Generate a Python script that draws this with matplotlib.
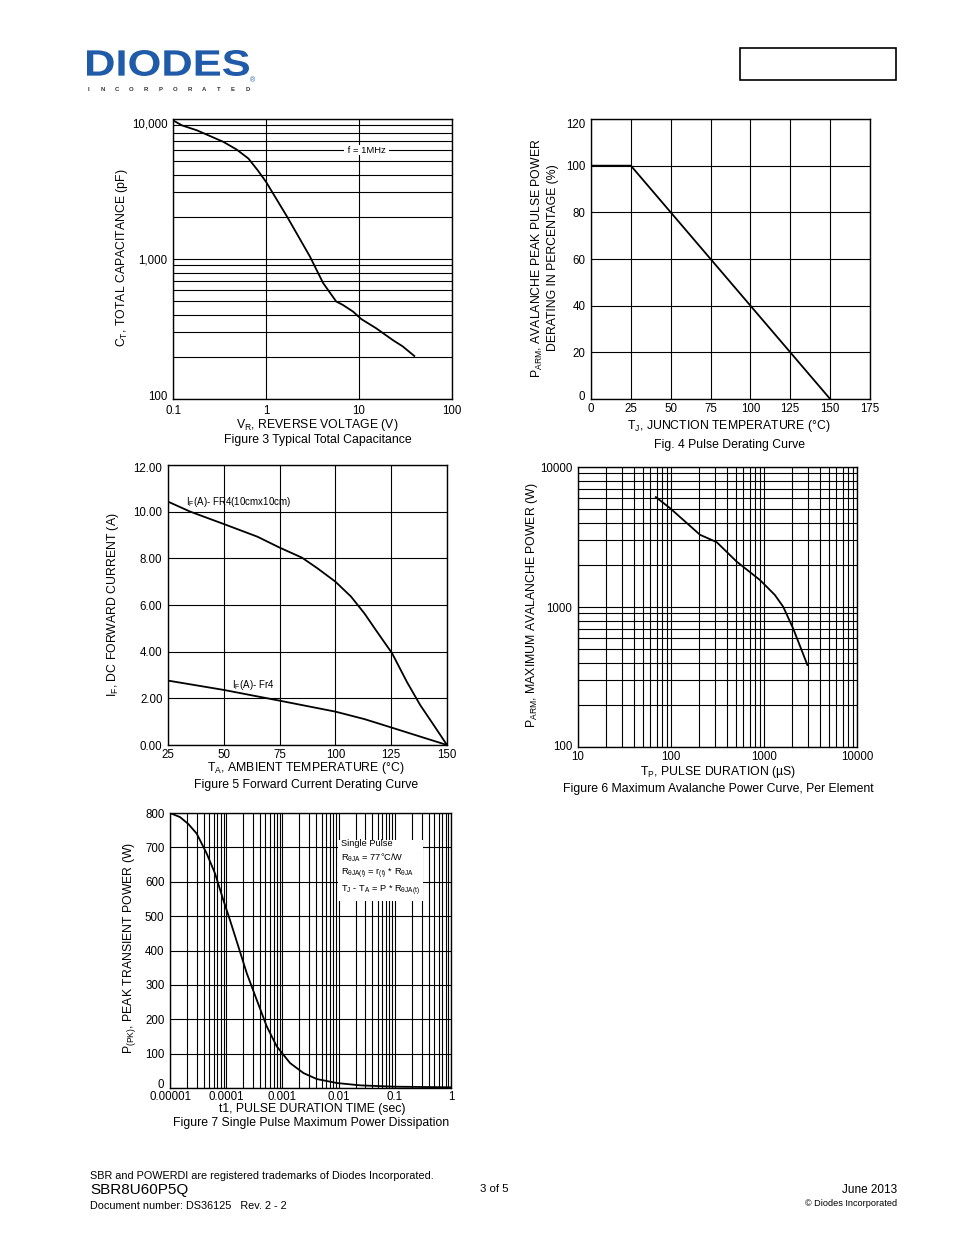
import numpy as np
import matplotlib
matplotlib.use("Agg")
import matplotlib.pyplot as plt
from matplotlib.textpath import TextPath
from matplotlib.patches import PathPatch, Rectangle
from matplotlib.font_manager import FontProperties
from matplotlib.transforms import Affine2D, ScaledTranslation

plt.rcParams['font.family'] = ['Liberation Sans', 'DejaVu Sans']
plt.rcParams['mathtext.fontset'] = 'custom'
plt.rcParams['mathtext.rm'] = 'Liberation Sans'
plt.rcParams['mathtext.it'] = 'Liberation Sans:italic'

W, H = 954, 1235

# Figure 3 - capacitance vs reverse voltage
cap_v = [0.1, 0.125, 0.181, 0.349, 0.484, 0.647, 0.813, 1.0, 1.69, 2.97, 4.11,
         5.69, 6.7, 8.63, 10.6, 15.3, 23.2, 29.4, 39.3]
cap_c = [9780, 9000, 8300, 6860, 6050, 5220, 4310, 3560, 2000, 1040, 674,
         497, 470, 421, 372, 320, 263, 238, 203]

# Figure 4 - pulse derating
der_t = [0, 25, 150]
der_p = [100, 100, 0]

# Figure 5 - forward current derating
fr4big_t = [25, 35, 50, 65, 75, 85, 92, 100, 107, 113, 118.6, 125.4, 132, 138, 144, 150]
fr4big_i = [10.43, 10.0, 9.47, 8.93, 8.46, 8.03, 7.57, 7.0, 6.36, 5.64, 4.86, 3.93,
            2.71, 1.71, 0.86, 0.0]
fr4_t = [25, 50, 75, 100, 113, 125.4, 138, 150]
fr4_i = [2.76, 2.36, 1.9, 1.43, 1.11, 0.74, 0.36, 0.0]

# Figure 6 - avalanche power vs pulse duration
av_tp = [68.7, 97.7, 205, 310, 507, 903, 1065, 1308, 1607, 2057, 2930]
av_p = [6095, 5080, 3280, 2906, 2113, 1560, 1399, 1219, 1005, 703, 385]

# Figure 7 - single pulse power
sp_t = [1e-5, 1.51e-5, 2.12e-5, 2.99e-5, 4.5e-5, 6.33e-5, 8.92e-5, 1.17e-4, 1.65e-4,
        2.32e-4, 3.5e-4, 5.27e-4, 7.94e-4, 1.37e-3, 2.37e-3, 4.1e-3, 9.3e-3, 0.0243,
        0.095, 1.0]
sp_p = [800, 788, 768, 740, 682, 624, 546, 488, 411, 334, 256, 179, 121, 72.5, 43.5,
        26, 14.5, 7.7, 3.9, 2]

TICK = 8.3
LAB = 8.8
GLW = 0.8
CLW = 1.3

fig = plt.figure(figsize=(W / 100, H / 100), dpi=100)


def fx(x):
    return x / W


def fy(y):
    return 1 - y / H


def txt(x, y, s, size=LAB, ha='center', va='center', **kw):
    fig.text(fx(x), fy(y), s, fontsize=size, ha=ha, va=va, **kw)


def make_ax(l, t, r, b):
    ax = fig.add_axes([fx(l), fy(b), (r - l) / W, (b - t) / H])
    for sp in ax.spines.values():
        sp.set_linewidth(1.0)
    ax.tick_params(which='both', length=0, labelsize=TICK, pad=4)
    return ax


def nudge(label, dy_px):
    # shift one tick label vertically (pixels, + is down)
    label.set_transform(label.get_transform() +
                        ScaledTranslation(0, -dy_px / 100, fig.dpi_scale_trans))


# page overlay: logo, box, footer
ov = fig.add_axes([0, 0, 1, 1])
ov.set_xlim(0, W)
ov.set_ylim(H, 0)
ov.axis('off')

tp = TextPath((0, 0), "DIODES", size=1, prop=FontProperties(family='Liberation Sans', weight='bold'))
ext = tp.get_extents()
sx = (249 - 87) / ext.width
sy = (76 - 50) / ext.height
tr = Affine2D().translate(-ext.x0, -ext.y0).scale(sx, -sy).translate(87, 76)
ov.add_patch(PathPatch(tr.transform_path(tp), facecolor='#1f5ba8', edgecolor='none'))
ov.text(253, 81, "®", fontsize=5, color='#1f5ba8', ha='center', va='center')
for i, ch in enumerate("INCORPORATED"):
    ov.text(88 + i * 14.5, 89.5, ch, fontsize=4.3, fontweight='bold', color='#333333',
            ha='center', va='center')
ov.add_patch(Rectangle((740, 48), 156, 32, fill=False, edgecolor='black', linewidth=1.2))

txt(90, 1176, "SBR and POWERDI are registered trademarks of Diodes Incorporated.", size=7.8, ha='left')
txt(90, 1190, "SBR8U60P5Q", size=11, ha='left')
txt(90, 1206, "Document number: DS36125   Rev. 2 - 2", size=7.8, ha='left')
txt(494, 1189, "3 of 5", size=8.2)
txt(897, 1190, "June 2013", size=8.5, ha='right')
txt(897, 1204, "© Diodes Incorporated", size=6.6, ha='right')

# ---- Figure 3
ax3 = make_ax(173, 119, 452, 399)
ax3.set_xscale('log')
ax3.set_yscale('log')
ax3.set_xlim(0.1, 100)
ax3.set_ylim(100, 10000)
ax3.set_xticks([0.1, 1, 10, 100])
ax3.set_xticklabels(['0.1', '1', '10', '100'])
ax3.set_xticks([], minor=True)
ax3.set_yticks([100, 1000, 10000])
ax3.set_yticklabels(['100', '1,000', '10,000'])
ax3.set_yticks([m * d for d in (100, 1000) for m in range(2, 10)], minor=True)
ax3.yaxis.set_minor_formatter(plt.NullFormatter())
ax3.grid(True, which='both', axis='y', color='black', linewidth=GLW)
ax3.grid(True, which='major', axis='x', color='black', linewidth=GLW)
ax3.plot(cap_v, cap_c, color='black', linewidth=CLW)
ax3.text(12, 6000, " f = 1MHz ", fontsize=6.8, ha='center', va='center',
         bbox=dict(facecolor='white', edgecolor='none', pad=0.5))
txt(122, 258, "C$_\\mathregular{T}$, TOTAL CAPACITANCE (pF)", rotation=90)
txt(317, 425, "V$_\\mathregular{R}$, REVERSE VOLTAGE (V)")
txt(318, 440, "Figure 3 Typical Total Capacitance")
yl = ax3.get_yticklabels()
nudge(yl[0], -4)
nudge(yl[-1], 4)

# ---- Figure 4
ax4 = make_ax(591, 119, 870, 399)
ax4.set_xlim(0, 175)
ax4.set_ylim(0, 120)
ax4.set_xticks(range(0, 176, 25))
ax4.set_yticks(range(0, 121, 20))
ax4.tick_params(axis='x', pad=3)
ax4.grid(True, color='black', linewidth=GLW)
ax4.plot(der_t, der_p, color='black', linewidth=CLW)
txt(537, 258, "P$_\\mathregular{ARM}$, AVALANCHE PEAK PULSE POWER", rotation=90)
txt(553, 258, "DERATING IN PERCENTAGE (%)", rotation=90)
txt(729, 426, "T$_\\mathregular{J}$, JUNCTION TEMPERATURE (°C)")
txt(729, 445, "Fig. 4 Pulse Derating Curve")
yl = ax4.get_yticklabels()
nudge(yl[0], -4)
nudge(yl[-1], 4)

# ---- Figure 5
ax5 = make_ax(168, 465, 447, 745)
ax5.set_xlim(25, 150)
ax5.set_ylim(0, 12)
ax5.set_xticks(range(25, 151, 25))
ax5.set_yticks(np.arange(0, 12.1, 2))
ax5.set_yticklabels(['%.2f' % v for v in np.arange(0, 12.1, 2)])
ax5.tick_params(axis='x', pad=3)
ax5.grid(True, color='black', linewidth=GLW)
ax5.plot(fr4big_t, fr4big_i, color='black', linewidth=CLW)
ax5.plot(fr4_t, fr4_i, color='black', linewidth=CLW)
ax5.text(33, 10.3, "I$_\\mathregular{F}$(A)- FR4(10cmx10cm)", fontsize=7, ha='left', va='baseline')
ax5.text(53.5, 2.46, "I$_\\mathregular{F}$(A)- Fr4", fontsize=7, ha='left', va='baseline')
txt(113, 605, "I$_\\mathregular{F}$, DC FORWARD CURRENT (A)", rotation=90)
txt(306, 768, "T$_\\mathregular{A}$, AMBIENT TEMPERATURE (°C)")
txt(306, 785, "Figure 5 Forward Current Derating Curve")
yl = ax5.get_yticklabels()
nudge(yl[-1], 2)

# ---- Figure 6
ax6 = make_ax(578, 467, 857, 747)
ax6.set_xscale('log')
ax6.set_yscale('log')
ax6.set_xlim(10, 10000)
ax6.set_ylim(100, 10000)
ax6.set_xticks([10, 100, 1000, 10000])
ax6.set_xticklabels(['10', '100', '1000', '10000'])
ax6.set_yticks([100, 1000, 10000])
ax6.set_yticklabels(['100', '1000', '10000'])
ax6.set_xticks([m * d for d in (10, 100, 1000) for m in range(2, 10)], minor=True)
ax6.set_yticks([m * d for d in (100, 1000) for m in range(2, 10)], minor=True)
ax6.xaxis.set_minor_formatter(plt.NullFormatter())
ax6.yaxis.set_minor_formatter(plt.NullFormatter())
ax6.tick_params(axis='x', pad=3)
ax6.grid(True, which='both', color='black', linewidth=GLW)
ax6.plot(av_tp, av_p, color='black', linewidth=CLW)
txt(532, 605, "P$_\\mathregular{ARM}$, MAXIMUM AVALANCHE POWER (W)", rotation=90)
txt(718, 772, "T$_\\mathregular{P}$, PULSE DURATION (µS)")
txt(718, 789, "Figure 6 Maximum Avalanche Power Curve, Per Element")
yl = ax6.get_yticklabels()
nudge(yl[0], -2)

# ---- Figure 7
ax7 = make_ax(170, 813, 451, 1088)
ax7.set_xscale('log')
ax7.set_xlim(1e-5, 1)
ax7.set_ylim(0, 800)
ax7.set_xticks([1e-5, 1e-4, 1e-3, 1e-2, 1e-1, 1])
ax7.set_xticklabels(['0.00001', '0.0001', '0.001', '0.01', '0.1', '1'])
ax7.set_xticks([m * d for d in (1e-5, 1e-4, 1e-3, 1e-2, 1e-1) for m in range(2, 10)], minor=True)
ax7.xaxis.set_minor_formatter(plt.NullFormatter())
ax7.set_yticks(range(0, 801, 100))
ax7.tick_params(axis='x', pad=2)
ax7.grid(True, which='both', axis='x', color='black', linewidth=GLW)
ax7.grid(True, which='major', axis='y', color='black', linewidth=GLW)
ax7.plot(sp_t, sp_p, color='black', linewidth=CLW)
note = ("Single Pulse\n"
        "R$_\\mathregular{θJA}$ = 77°C/W\n"
        "R$_\\mathregular{θJA(t)}$ = r$_\\mathregular{(t)}$ * R$_\\mathregular{θJA}$\n"
        "T$_\\mathregular{J}$ - T$_\\mathregular{A}$ = P * R$_\\mathregular{θJA(t)}$")
fig.text(fx(341), fy(839), note, fontsize=6.7, ha='left', va='top', linespacing=1.35,
         bbox=dict(facecolor='white', edgecolor='none', pad=2))
txt(130, 948, "P$_\\mathregular{(PK)}$, PEAK TRANSIENT POWER (W)", rotation=90)
txt(312, 1109, "t1, PULSE DURATION TIME (sec)")
txt(311, 1123, "Figure 7 Single Pulse Maximum Power Dissipation")
yl = ax7.get_yticklabels()
nudge(yl[0], -4)

fig.savefig("out.png", dpi=100)
